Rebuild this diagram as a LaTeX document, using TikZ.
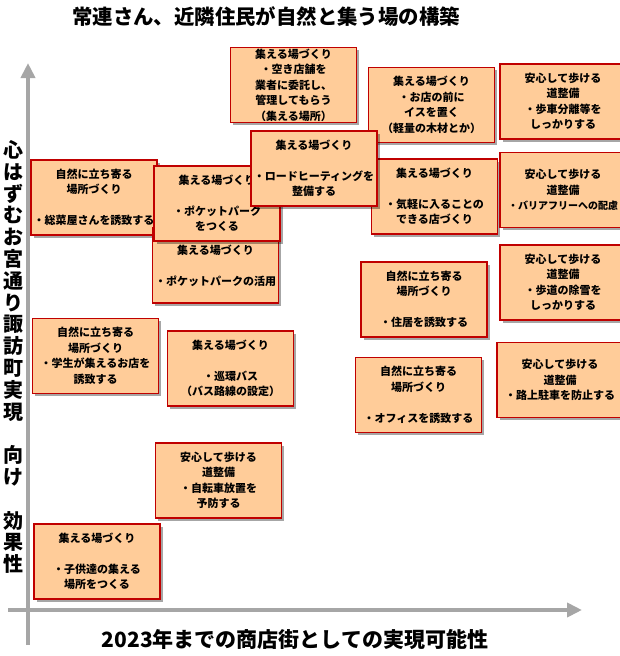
\documentclass[tikz,border=0pt]{standalone}
\usepackage{fontspec}
\setmainfont{Noto Sans CJK JP}[BoldFont={* Black}]
\usetikzlibrary{arrows.meta,shadows}

\definecolor{kastenrot}{HTML}{C00000}
\definecolor{kastenfuell}{HTML}{FFCC99}
\definecolor{achsengrau}{HTML}{A6A6A6}

\begin{document}
\begin{tikzpicture}[x=1pt,y=-1pt,
  karte/.style={draw=kastenrot,line width=1.4pt,fill=kastenfuell,
    minimum width=126pt,minimum height=75pt,inner sep=1pt,align=center,
    font=\bfseries\fontsize{11}{15.5}\selectfont,
    drop shadow={shadow xshift=2.5pt,shadow yshift=-2.5pt,fill=black,opacity=0.35}},
  achse/.style={draw=achsengrau,line width=4.5pt,-{Triangle[width=14pt,length=15pt]}}]

\useasboundingbox (0,0) rectangle (620,656);

\node (titel) at (266,17) [font=\bfseries\fontsize{20.4}{24}\selectfont] {常連さん、近隣住民が自然と集う場の構築};
\node (xlabel) at (295,640) [font=\bfseries\fontsize{21}{24}\selectfont] {2023年までの商店街としての実現可能性};
\node (ylabel) at (14,357) [align=center,font=\bfseries\fontsize{20}{21.8}\selectfont]
  {心\\は\\ず\\む\\お\\宮\\通\\り\\諏\\訪\\町\\実\\現\\[21.8pt]向\\け\\[21.8pt]効\\果\\性};

\coordinate (yfuss) at (28,645);
\coordinate (yspitze) at (28,63);
\coordinate (xfuss) at (8,610);
\coordinate (xspitze) at (582,610);
\draw[achse] (yfuss) -- (yspitze);
\draw[achse] (xfuss) -- (xspitze);

\node[karte] (akitenpo) at (293.5,85) {集える場づくり\\・空き店舗を\\業者に委託し、\\管理してもらう\\（集える場所）};
\node[karte] (isu) at (431.5,105) {集える場づくり\\・お店の前に\\イスを置く\\（軽量の木材とか）};
\node[karte] (hosha) at (563,101.5) {安心して歩ける\\道整備\\・歩車分離等を\\しっかりする};
\node[karte] (kigaru) at (434.5,196.5) {集える場づくり\\[15.5pt]・気軽に入ることの\\できる店づくり};
\node[karte] (barriere) at (563,190) {安心して歩ける\\道整備\\{\fontsize{10}{15.5}\selectfont ・バリアフリーへの配慮}};
\node[karte] (souzai) at (94,197.5) {自然に立ち寄る\\場所づくり\\[15.5pt]・総菜屋さんを誘致する};
\node[karte] (pocket2) at (215.5,265.5) {集える場づくり\\[15.5pt]・ポケットパークの活用};
\node[karte] (pocket1) at (217,203.5) {集える場づくり\\[15.5pt]・ポケットパーク\\をつくる};
\node[karte] (road) at (314,168.5) {集える場づくり\\[15.5pt]・ロードヒーティングを\\整備する};

\node[karte] (gakusei) at (95.5,356) {自然に立ち寄る\\場所づくり\\・学生が集えるお店を\\誘致する};
\node[karte] (bus) at (230.5,368.5) {集える場づくり\\[15.5pt]・巡環バス\\（バス路線の設定）};
\node[karte] (jukyo) at (424,299.5) {自然に立ち寄る\\場所づくり\\[15.5pt]・住居を誘致する};
\node[karte] (josetsu) at (563,282.5) {安心して歩ける\\道整備\\・歩道の除雪を\\しっかりする};
\node[karte] (office) at (418.5,395) {自然に立ち寄る\\場所づくり\\[15.5pt]・オフィスを誘致する};
\node[karte] (chusha) at (560,380) {安心して歩ける\\道整備\\・路上駐車を防止する};
\node[karte] (jitensha) at (218.5,480.5) {安心して歩ける\\道整備\\・自転車放置を\\予防する};
\node[karte] (kodomo) at (97,561.5) {集える場づくり\\[15.5pt]・子供達の集える\\場所をつくる};

\end{tikzpicture}
\end{document}
